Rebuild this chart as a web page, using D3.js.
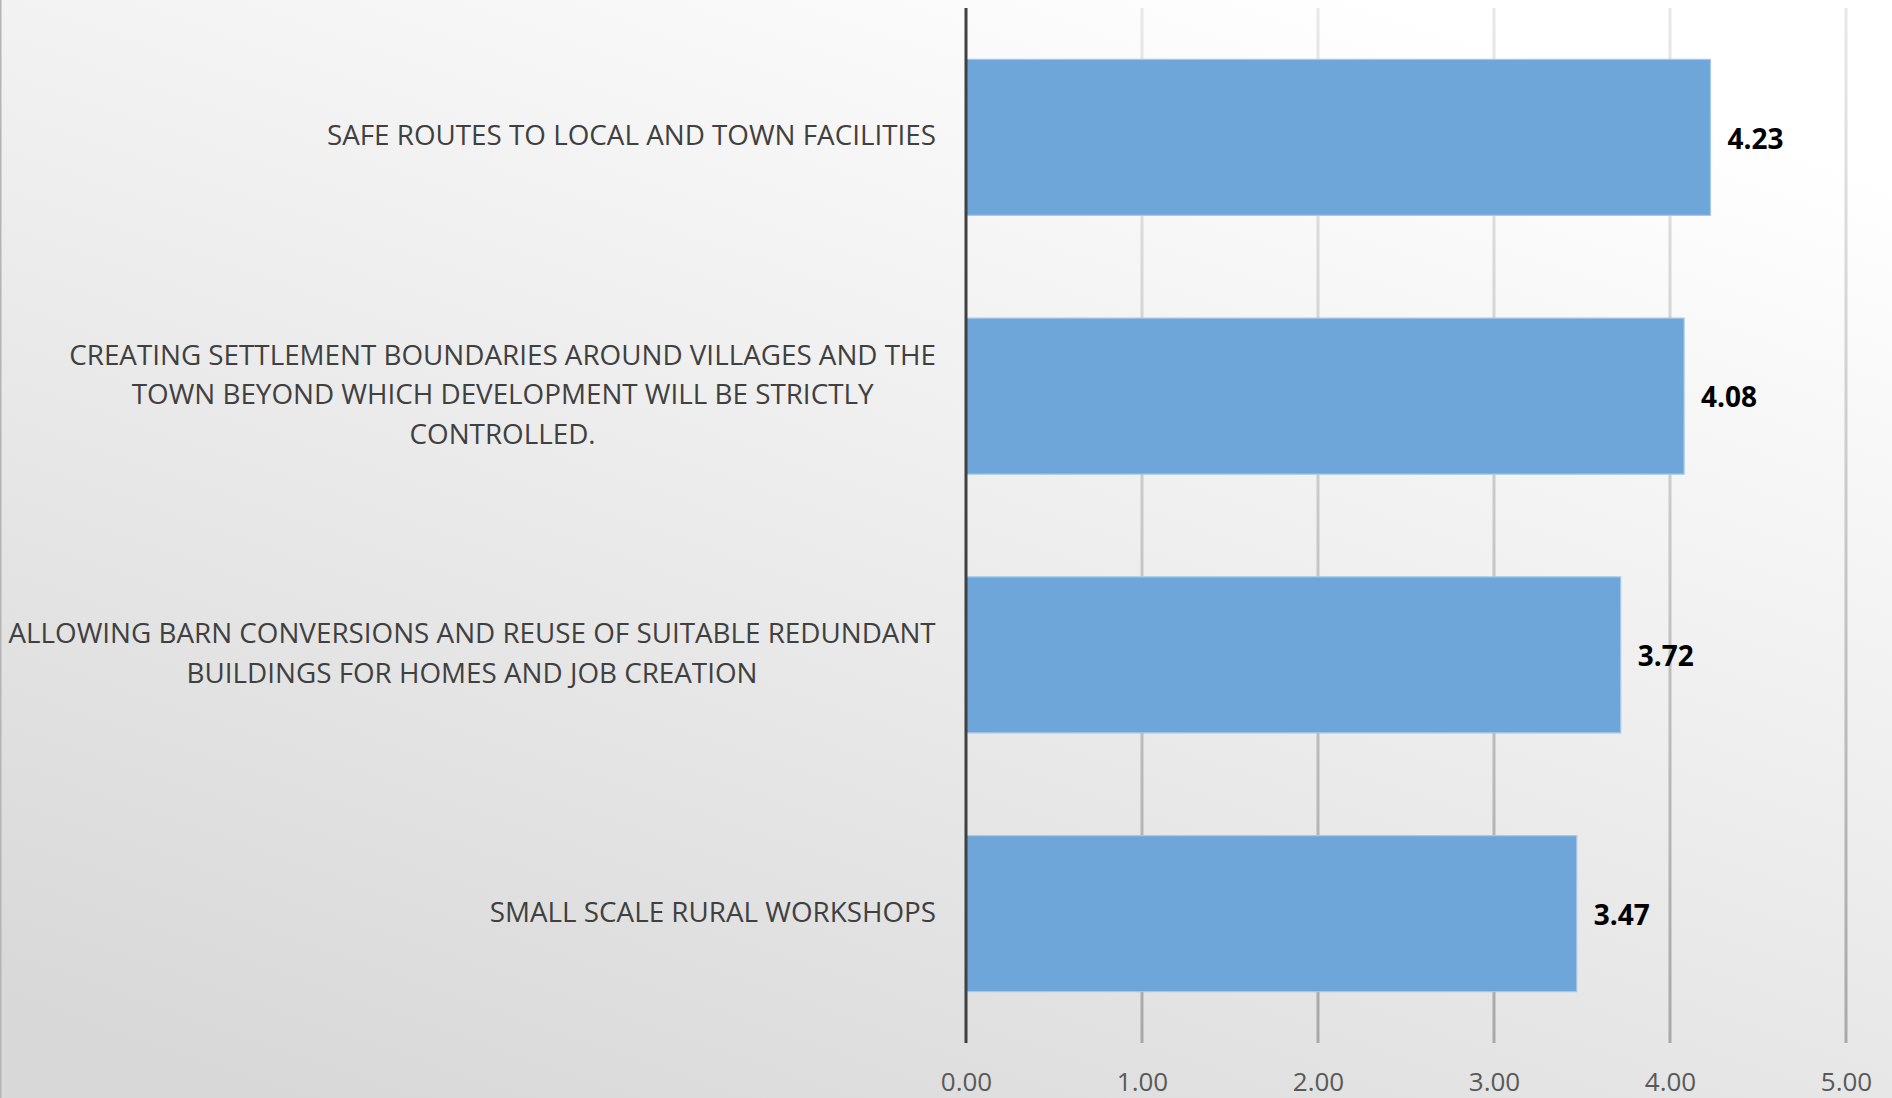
<!DOCTYPE html>
<html><head><meta charset="utf-8">
<script src="https://cdn.jsdelivr.net/npm/d3@7"></script>
<style>html,body{margin:0;padding:0;overflow:hidden;background:#fff}</style>
</head><body>
<svg id="chart" width="1892" height="1098"></svg>
<script>
const categories = [
  ["SAFE ROUTES TO LOCAL AND TOWN FACILITIES"],
  ["CREATING SETTLEMENT BOUNDARIES AROUND VILLAGES AND THE", "TOWN BEYOND WHICH DEVELOPMENT WILL BE STRICTLY", "CONTROLLED."],
  ["ALLOWING BARN CONVERSIONS AND REUSE OF SUITABLE REDUNDANT", "BUILDINGS FOR HOMES AND JOB CREATION"],
  ["SMALL SCALE RURAL WORKSHOPS"]
];
const values = [4.23, 4.08, 3.72, 3.47];
const tickValues = [0, 1, 2, 3, 4, 5];

const W = 1892, H = 1098;
const svg = d3.select("#chart");
const defs = svg.append("defs");
const bg = defs.append("linearGradient").attr("id","bg").attr("x1","0.75").attr("y1","0").attr("x2","0.15").attr("y2","1");
bg.append("stop").attr("offset","0").attr("stop-color","#ffffff");
bg.append("stop").attr("offset","1").attr("stop-color","#d8d8d8");
const gg = defs.append("linearGradient").attr("id","grid").attr("x1","0").attr("y1","0").attr("x2","0").attr("y2","1");
gg.append("stop").attr("offset","0").attr("stop-color","#e8e8e8");
gg.append("stop").attr("offset","1").attr("stop-color","#a8a8a8");

svg.append("rect").attr("width",W).attr("height",H).attr("fill","url(#bg)");
svg.append("line").attr("x1",0.75).attr("x2",0.75).attr("y1",0).attr("y2",H).attr("stroke","#b4b4b4").attr("stroke-width",1.5);

const x = d3.scaleLinear().domain([0,5]).range([966, 1846]);
const y = d3.scaleBand().domain(d3.range(categories.length)).range([8, 1043]).paddingInner(0.397).paddingOuter(0.1985);

// gridlines
svg.append("g").selectAll("rect").data(tickValues.slice(1)).join("rect")
  .attr("x", d => x(d) - 1.5).attr("width", 3)
  .attr("y", 8).attr("height", 1043 - 8)
  .attr("fill", "url(#grid)");

// bars
svg.append("g").selectAll("rect").data(values).join("rect")
  .attr("x", x(0)).attr("y", (d,i) => y(i))
  .attr("width", d => x(d) - x(0)).attr("height", y.bandwidth())
  .attr("fill", "#6fa6d9").attr("stroke", "#a6c8ea").attr("stroke-width", 1.2);

// axis line
svg.append("line").attr("x1", x(0)).attr("x2", x(0)).attr("y1", 8).attr("y2", 1043)
  .attr("stroke", "#404040").attr("stroke-width", 3);

// value labels
svg.append("g").selectAll("text").data(values).join("text")
  .attr("x", d => x(d) + 17).attr("y", (d,i) => y(i) + y.bandwidth()/2)
  .attr("dy", "0.4em")
  .attr("font-family", "'Open Sans', sans-serif").attr("font-weight", 700).attr("font-size", 28)
  .attr("fill", "#000").text(d => d.toFixed(2));

// x axis tick labels
const xAxis = d3.axisBottom(x).tickValues(tickValues).tickFormat(d3.format(".2f")).tickSize(0).tickPadding(0);
const ax = svg.append("g").attr("transform", "translate(0,1082)").call(xAxis);
ax.select(".domain").remove();
ax.selectAll("text").attr("font-family", "'Open Sans', sans-serif").attr("font-size", 26)
  .attr("fill", "#595959").attr("dy", "0.36em").attr("y", 0);

// category labels
const lineH = 39.5;
const lab = svg.append("g");
categories.forEach((lines, i) => {
  const cy = y(i) + y.bandwidth()/2;
  const t = lab.append("text")
    .attr("font-family", "'Open Sans', sans-serif").attr("font-size", 27.8)
    .attr("fill", "#404040").attr("text-anchor", "middle");
  lines.forEach((ln, k) => {
    t.append("tspan").attr("x", 0).attr("y", cy - 2 + (k - (lines.length-1)/2) * lineH).attr("dy","0.36em").text(ln);
  });
  const bb = t.node().getBBox();
  t.attr("transform", `translate(${936 - bb.width/2},0)`);
});
</script>
</body></html>
